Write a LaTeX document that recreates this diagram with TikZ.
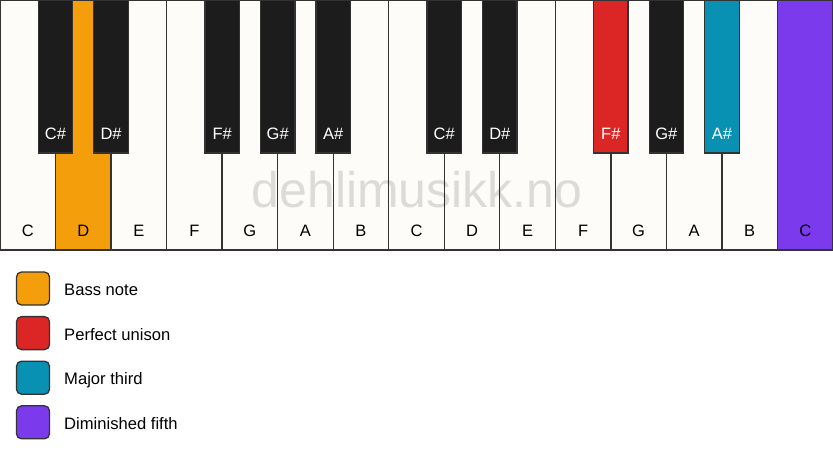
\documentclass[tikz,border=0pt]{standalone}
\usepackage{fontspec}
\setmainfont{Liberation Sans}
\definecolor{keywhite}{HTML}{FDFCF8}
\definecolor{keyblack}{HTML}{1C1C1C}
\definecolor{keyline}{HTML}{333333}
\definecolor{bass}{HTML}{F59E0B}
\definecolor{unison}{HTML}{DC2626}
\definecolor{third}{HTML}{0891B2}
\definecolor{dimfifth}{HTML}{7C3AED}
\begin{document}
\begin{tikzpicture}[x=1pt,y=-1pt,
  whitekey/.style={draw=keyline,line width=1.3pt,inner sep=0pt,minimum width=55.5333pt,minimum height=250pt},
  blackkey/.style={draw=keyline,line width=1.3pt,inner sep=0pt,minimum width=34.5pt,minimum height=153pt},
  wlabel/.style={anchor=base,font=\fontsize{16.5}{18}\selectfont,text=black,inner sep=0pt},
  blabel/.style={anchor=base,font=\fontsize{16.5}{18}\selectfont,text=white,inner sep=0pt},
  swatch/.style={draw=keyline,line width=1.3pt,rounded corners=5pt,inner sep=0pt,minimum size=33pt},
  legtext/.style={anchor=base west,font=\fontsize{16.6}{18}\selectfont,text=black,inner sep=0pt},
  watermark/.style={anchor=base,font=\fontsize{50}{56}\selectfont,text=black,text opacity=0.13,inner sep=0pt}]
\useasboundingbox (0,0) rectangle (833,461);
\fill[white] (0,0) rectangle (833,461);
\def\w{55.5333}
\foreach \i/\n/\c in {0/C/keywhite,1/D/bass,2/E/keywhite,3/F/keywhite,4/G/keywhite,5/A/keywhite,6/B/keywhite,7/C/keywhite,8/D/keywhite,9/E/keywhite,10/F/keywhite,11/G/keywhite,12/A/keywhite,13/B/keywhite,14/C/dimfifth}{
  \node[whitekey,fill=\c] (wk\i) at ({(\i+0.5)*\w},125) {};
  \node[wlabel] (wl\i) at ({(\i+0.5)*\w},236) {\n};
}
\node[watermark] (wm) at (417,207) {dehlimusikk.no};
\foreach \b/\n/\c in {1/C\#/keyblack,2/D\#/keyblack,4/F\#/keyblack,5/G\#/keyblack,6/A\#/keyblack,8/C\#/keyblack,9/D\#/keyblack,11/F\#/unison,12/G\#/keyblack,13/A\#/third}{
  \node[blackkey,fill=\c] (bk\b) at ({\b*\w},76.5) {};
  \node[blabel] (bl\b) at ({\b*\w},139) {\n};
}
\foreach \k/\c/\t in {0/bass/Bass note,1/unison/Perfect unison,2/third/Major third,3/dimfifth/Diminished fifth}{
  \node[swatch,fill=\c] (sw\k) at (33,{288.5+\k*44.6}) {};
  \node[legtext] (lt\k) at (64,{295.7+\k*44.6}) {\t};
}
\end{tikzpicture}
\end{document}
